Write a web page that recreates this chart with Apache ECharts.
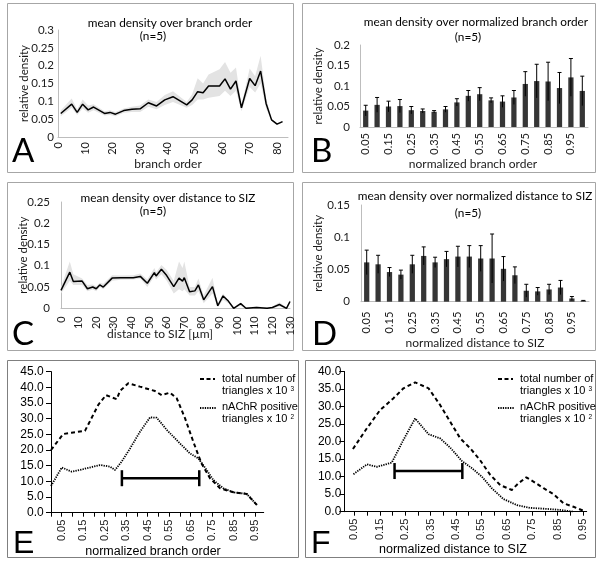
<!DOCTYPE html>
<html><head><meta charset="utf-8">
<script src="https://cdn.jsdelivr.net/npm/echarts@6/dist/echarts.min.js"></script>
<style>html,body{margin:0;padding:0;background:#fff}#c{width:601px;height:563px}</style>
</head><body><div id="c"></div>
<script>
// ---------- Panel A: mean density over branch order ----------
const A_x  = [1,5,7,9,11,13,17,19,21,24,27,30,33,36,39,42,47,49,51,53,55,59,61,63,65,67,70,72,74,76,78,80,82];
const A_y  = [0.066,0.092,0.069,0.092,0.076,0.084,0.066,0.069,0.064,0.074,0.078,0.079,0.096,0.087,0.104,0.113,0.090,0.104,0.127,0.124,0.143,0.143,0.163,0.134,0.157,0.082,0.164,0.144,0.185,0.094,0.048,0.036,0.043];
const A_lo = [0.058,0.082,0.062,0.080,0.068,0.075,0.060,0.062,0.058,0.068,0.070,0.070,0.085,0.078,0.090,0.098,0.082,0.090,0.105,0.105,0.110,0.115,0.130,0.115,0.130,0.072,0.140,0.125,0.150,0.080,0.045,0.034,0.041];
const A_hi = [0.074,0.108,0.078,0.105,0.088,0.092,0.072,0.075,0.070,0.080,0.085,0.088,0.105,0.098,0.118,0.128,0.098,0.120,0.165,0.150,0.175,0.190,0.210,0.180,0.195,0.090,0.192,0.170,0.228,0.110,0.050,0.038,0.045];
const A_ticks = [0,10,20,30,40,50,60,70,80];

// ---------- Panel B: mean density over normalized branch order ----------
const B_cats = ['0.05','0.1','0.15','0.2','0.25','0.3','0.35','0.4','0.45','0.5','0.55','0.6','0.65','0.7','0.75','0.8','0.85','0.9','0.95','1'];
const B_mean = [0.040,0.054,0.050,0.051,0.041,0.039,0.037,0.043,0.060,0.076,0.080,0.065,0.062,0.072,0.105,0.112,0.111,0.095,0.121,0.088];
const B_err  = [0.013,0.018,0.013,0.016,0.009,0.005,0.003,0.007,0.009,0.013,0.016,0.006,0.014,0.017,0.030,0.041,0.047,0.038,0.046,0.036];

// ---------- Panel C: mean density over distance to SIZ ----------
const C_x  = [0,5,7,12,15,18,20,22,24,29,34,41,45,49,53,54,57,60,64,67,69,70,73,76,78,81,86,89,92,95,98,102,105,111,117,120,124,128,130];
const C_y  = [0.042,0.085,0.063,0.064,0.046,0.050,0.046,0.055,0.050,0.071,0.072,0.072,0.075,0.059,0.084,0.076,0.092,0.077,0.051,0.071,0.064,0.072,0.039,0.041,0.055,0.020,0.051,0.006,0.029,0.017,0,0.011,0,0.002,0,0.002,0.009,0,0.016];
const C_lo = [0.035,0.065,0.055,0.055,0.040,0.044,0.040,0.050,0.045,0.065,0.067,0.068,0.070,0.050,0.075,0.068,0.080,0.065,0.035,0.045,0.040,0.045,0.030,0.030,0.040,0.012,0.035,0.002,0.020,0.012,0,0.006,0,0,0,0,0.004,0,0.012];
const C_hi = [0.050,0.110,0.080,0.070,0.055,0.056,0.052,0.060,0.058,0.078,0.077,0.078,0.082,0.068,0.095,0.085,0.102,0.090,0.065,0.110,0.095,0.110,0.050,0.050,0.070,0.030,0.072,0.010,0.035,0.020,0.002,0.014,0.002,0.004,0.002,0.004,0.014,0.002,0.020];

// ---------- Panel D: mean density over normalized distance to SIZ ----------
const D_cats = B_cats;
const D_mean = [0.061,0.058,0.046,0.042,0.058,0.071,0.061,0.066,0.070,0.070,0.067,0.067,0.051,0.041,0.017,0.016,0.019,0.022,0.005,0.0015];
const D_err  = [0.019,0.014,0.007,0.007,0.014,0.014,0.008,0.012,0.016,0.017,0.020,0.038,0.019,0.013,0.010,0.006,0.008,0.011,0.003,0.0005];

// ---------- Panel E: triangles over normalized branch order ----------
const E_xTotal = [0.0,0.057,0.096,0.158,0.18,0.22,0.256,0.275,0.306,0.321,0.36,0.414,0.484,0.515,0.554,0.585,0.624,0.662,0.70,0.74,0.787,0.849,0.911,0.958];
const E_total  = [20.0,25.1,25.5,26.1,29.0,34.4,37.5,37.0,36.2,38.8,41.3,40.2,38.8,37.5,38.3,36.5,30.1,22.7,15.8,11.0,7.8,6.5,6.0,2.5];
const E_xPos   = [0.0,0.05,0.096,0.15,0.228,0.275,0.298,0.329,0.368,0.414,0.461,0.492,0.539,0.60,0.647,0.686,0.725,0.756,0.802,0.849,0.911,0.958];
const E_pos    = [8.5,14.4,13.1,13.9,15.2,14.7,13.6,16.3,20.5,25.8,30.4,30.3,26.4,22.1,18.9,17.3,13.6,10.4,7.8,6.5,6.0,2.5];
const E_range  = [0.33, 0.69, 11.0];

// ---------- Panel F: triangles over normalized distance to SIZ ----------
const F_xTotal = [0.044,0.099,0.151,0.204,0.243,0.289,0.342,0.388,0.427,0.467,0.506,0.545,0.585,0.624,0.67,0.696,0.727,0.755,0.795,0.834,0.874,0.913,0.955];
const F_total  = [17.9,23.8,29.0,32.4,35.2,36.9,35.2,30.4,25.7,20.9,18.1,14.7,10.5,7.6,6.2,8.1,9.8,8.6,6.7,5.0,2.4,1.4,0.2];
const F_xPos   = [0.046,0.099,0.138,0.197,0.243,0.289,0.342,0.388,0.427,0.473,0.513,0.552,0.591,0.637,0.69,0.742,0.808,0.861,0.913];
const F_pos    = [10.7,13.5,12.8,14.0,20.5,26.6,22.1,20.9,18.3,14.5,12.4,10.0,6.7,3.6,1.9,1.1,0.8,0.5,0.0];
const F_range  = [0.208, 0.475, 11.6];

const EF_labels = [0.05,0.15,0.25,0.35,0.45,0.55,0.65,0.75,0.85,0.95];
const EF_ticks  = [0,0.05,0.1,0.15,0.2,0.25,0.3,0.35,0.4,0.45,0.5,0.55,0.6,0.65,0.7,0.75,0.8,0.85,0.9,0.95];

// ---------- helpers ----------
const zip = (xs, ys) => xs.map((x, i) => [x, ys[i]]);
const LATO = 'Lato', ARIAL = 'Liberation Sans';
const TXT = '#1a1a1a';

function bandSeries(gi, xs, lo, hi) {
  return {
    type: 'custom', xAxisIndex: gi, yAxisIndex: gi, silent: true, z: 1,
    data: [[xs[0], lo[0]]],
    renderItem: (params, api) => {
      const pts = [];
      for (let i = 0; i < xs.length; i++) pts.push(api.coord([xs[i], hi[i]]));
      for (let i = xs.length - 1; i >= 0; i--) pts.push(api.coord([xs[i], lo[i]]));
      return { type: 'polygon', shape: { points: pts }, style: { fill: '#e3e3e3' } };
    }
  };
}
function errSeries(gi, mean, err) {
  return {
    type: 'custom', xAxisIndex: gi, yAxisIndex: gi, silent: true, z: 5,
    data: mean.map((m, i) => [i, m, err[i]]),
    renderItem: (params, api) => {
      const x = api.value(0), m = api.value(1), e = api.value(2);
      const top = api.coord([x, m + e]);
      const bot = api.coord([x, Math.max(0, m - e)]);
      const st = { stroke: '#000', lineWidth: 1 };
      return { type: 'group', children: [
        { type: 'line', shape: { x1: top[0], y1: top[1], x2: bot[0], y2: bot[1] }, style: st },
        { type: 'line', shape: { x1: top[0] - 2, y1: top[1], x2: top[0] + 2, y2: top[1] }, style: st }
      ]};
    }
  };
}
function rangeSeries(gi, r) {
  return {
    type: 'custom', xAxisIndex: gi, yAxisIndex: gi, silent: true, z: 6,
    data: [r],
    renderItem: (params, api) => {
      const a = api.coord([api.value(0), api.value(2)]);
      const b = api.coord([api.value(1), api.value(2)]);
      const st = { stroke: '#000', lineWidth: 2.5 };
      return { type: 'group', children: [
        { type: 'line', shape: { x1: a[0], y1: a[1], x2: b[0], y2: b[1] }, style: st },
        { type: 'line', shape: { x1: a[0], y1: a[1] - 8, x2: a[0], y2: a[1] + 8 }, style: st },
        { type: 'line', shape: { x1: b[0], y1: b[1] - 8, x2: b[0], y2: b[1] + 8 }, style: st }
      ]};
    }
  };
}
function excelY(gi, max, labelMargin, nameGap) {
  return {
    gridIndex: gi, type: 'value', min: 0, max: max, interval: 0.05,
    axisLine: { show: true, lineStyle: { color: '#bdbdbd', width: 1 } },
    axisTick: { show: false }, splitLine: { show: false },
    axisLabel: { fontFamily: LATO, fontSize: 11.5, color: TXT, margin: labelMargin },
    name: 'relative density', nameLocation: 'middle', nameGap: nameGap, nameRotate: 90,
    nameMoveOverlap: false,
    nameTextStyle: { fontFamily: LATO, fontSize: 11.5, color: TXT }
  };
}
function excelX(gi, base, labelMargin) {
  return Object.assign({
    gridIndex: gi,
    axisLine: { show: true, lineStyle: { color: '#bdbdbd', width: 1 } },
    axisTick: { show: false }, splitLine: { show: false }
  }, base, {
    axisLabel: Object.assign({ rotate: 90, fontFamily: LATO, fontSize: 11, color: TXT, margin: labelMargin }, base.axisLabel || {})
  });
}
function sigmaY(gi, max) {
  return {
    gridIndex: gi, type: 'value', min: 0, max: max, interval: 5,
    axisLine: { show: true, lineStyle: { color: '#000', width: 1 } },
    axisTick: { show: true, inside: false, length: 5, lineStyle: { color: '#000' } },
    splitLine: { show: false },
    axisLabel: { fontFamily: ARIAL, fontSize: 12, color: '#000', margin: 3, formatter: v => v.toFixed(1) }
  };
}
function sigmaX(gi, min, max) {
  return {
    gridIndex: gi, type: 'value', min: min, max: max,
    axisLine: { show: true, lineStyle: { color: '#000', width: 1 } },
    axisTick: { show: true, length: 4, lineStyle: { color: '#000' }, customValues: EF_ticks },
    splitLine: { show: false },
    axisLabel: { customValues: EF_labels, rotate: 90, fontFamily: ARIAL, fontSize: 11, color: '#222', margin: 7,
                 formatter: v => v.toFixed(2) }
  };
}
const lineStyleSolid = { color: '#000', width: 1.5 };

const option = {
  backgroundColor: '#fff',
  animation: false,
  grid: [
    { left: 58, top: 30, width: 230, height: 107, outerBoundsMode: 'none' },     // A
    { left: 360, top: 45, width: 228, height: 82, outerBoundsMode: 'none' },     // B
    { left: 61, top: 202, width: 229, height: 106.3, outerBoundsMode: 'none' },  // C
    { left: 361, top: 205, width: 228, height: 96.7, outerBoundsMode: 'none' },  // D
    { left: 46.7, top: 371.6, width: 217, height: 141.1, outerBoundsMode: 'none' }, // E
    { left: 344.3, top: 371.5, width: 242.4, height: 140.2, outerBoundsMode: 'none' } // F
  ],
  xAxis: [
    excelX(0, { type: 'value', min: 0, max: 84, axisLabel: { customValues: A_ticks } }, 5),
    excelX(1, { type: 'category', data: B_cats, boundaryGap: true, axisLabel: { interval: 1 } }, 6),
    excelX(2, { type: 'value', min: 0, max: 130, interval: 10 }, 8),
    excelX(3, { type: 'category', data: D_cats, boundaryGap: true, axisLabel: { interval: 1 } }, 10),
    sigmaX(4, -0.02, 0.99),
    sigmaX(5, 0.01, 0.965)
  ],
  yAxis: [
    excelY(0, 0.3, 4, 28),
    excelY(1, 0.2, 10, 36),
    excelY(2, 0.25, 11, 32),
    excelY(3, 0.15, 11, 37),
    sigmaY(4, 45),
    sigmaY(5, 40)
  ],
  series: [
    bandSeries(0, A_x, A_lo, A_hi),
    { type: 'line', xAxisIndex: 0, yAxisIndex: 0, data: zip(A_x, A_y), symbol: 'none', lineStyle: lineStyleSolid, z: 3 },
    { type: 'bar', xAxisIndex: 1, yAxisIndex: 1, data: B_mean, barWidth: '46%', itemStyle: { color: '#363636' } },
    errSeries(1, B_mean, B_err),
    bandSeries(2, C_x, C_lo, C_hi),
    { type: 'line', xAxisIndex: 2, yAxisIndex: 2, data: zip(C_x, C_y), symbol: 'none', lineStyle: lineStyleSolid, z: 3 },
    { type: 'bar', xAxisIndex: 3, yAxisIndex: 3, data: D_mean, barWidth: '46%', itemStyle: { color: '#363636' } },
    errSeries(3, D_mean, D_err),
    { type: 'line', xAxisIndex: 4, yAxisIndex: 4, data: zip(E_xTotal, E_total), symbol: 'none', lineStyle: { color: '#000', width: 2, type: [4, 3] } },
    { type: 'line', xAxisIndex: 4, yAxisIndex: 4, data: zip(E_xPos, E_pos), symbol: 'none', lineStyle: { color: '#000', width: 1.8, type: [1.3, 1.1] } },
    rangeSeries(4, E_range),
    { type: 'line', xAxisIndex: 5, yAxisIndex: 5, data: zip(F_xTotal, F_total), symbol: 'none', lineStyle: { color: '#000', width: 2, type: [4, 3] } },
    { type: 'line', xAxisIndex: 5, yAxisIndex: 5, data: zip(F_xPos, F_pos), symbol: 'none', lineStyle: { color: '#000', width: 1.8, type: [1.3, 1.1] } },
    rangeSeries(5, F_range)
  ],
  graphic: { elements: [] }
};

const G = option.graphic.elements;
// panel frames
[[7.5,3.5,286,169,'#a6a6a6'],[302.5,3.5,293,169,'#a6a6a6'],[7.5,182.5,286,168,'#a6a6a6'],[302.5,182.5,293,168,'#a6a6a6'],
 [7.5,360.5,291,197,'#7f7f7f'],[305.5,360.5,290,197,'#7f7f7f']].forEach(r => {
  G.push({ type: 'rect', shape: { x: r[0], y: r[1], width: r[2], height: r[3] }, style: { fill: null, stroke: r[4], lineWidth: 1 }, silent: true, z: -1 });
});
function txt(x, y, s, font, size, align, color) {
  G.push({ type: 'text', x: x, y: y, silent: true, style: { text: s, fontFamily: font, fontSize: size, fill: color || '#000', align: align || 'center', verticalAlign: 'middle' } });
}
// titles
txt(170, 23, 'mean density over branch order', LATO, 11.8);
txt(153, 36, '(n=5)', LATO, 11.8);
txt(476, 22, 'mean density over normalized branch order', LATO, 11.8);
txt(468, 37, '(n=5)', LATO, 11.8);
txt(168, 198, 'mean density over distance to SIZ', LATO, 11.8);
txt(153, 211, '(n=5)', LATO, 11.8);
txt(475, 196, 'mean density over normalized distance to SIZ', LATO, 11.8);
txt(468, 213, '(n=5)', LATO, 11.8);
// x-axis titles
txt(168, 164, 'branch order', LATO, 12, 'center', TXT);
txt(473, 164, 'normalized branch order', LATO, 12, 'center', TXT);
txt(160, 334, 'distance to SIZ [µm]', LATO, 12, 'center', TXT);
txt(475, 343, 'normalized distance to SIZ', LATO, 12, 'center', TXT);
txt(153, 552, 'normalized branch order', ARIAL, 12.5);
txt(453, 550, 'normalized distance to SIZ', ARIAL, 12.5);
// panel letters
txt(12, 151, 'A', LATO, 33, 'left');
txt(311, 151, 'B', LATO, 33, 'left');
txt(12, 334, 'C', LATO, 33, 'left');
txt(312, 334, 'D', LATO, 33, 'left');
txt(13, 544, 'E', ARIAL, 32, 'left');
txt(311, 544, 'F', ARIAL, 32, 'left');
// legends for E and F
function legend(x0, tx) {
  G.push({ type: 'line', silent: true, shape: { x1: x0, y1: 379, x2: x0 + 15, y2: 379 }, style: { stroke: '#000', lineWidth: 2, lineDash: [4, 2.5] } });
  G.push({ type: 'line', silent: true, shape: { x1: x0, y1: 408, x2: x0 + 16, y2: 408 }, style: { stroke: '#000', lineWidth: 1.8, lineDash: [1.3, 1.1] } });
  const rich = { s: { fontSize: 6.5, fontFamily: ARIAL, verticalAlign: 'top', fill: '#000' } };
  G.push({ type: 'text', x: tx, y: 379, silent: true, style: { text: 'total number of', fontFamily: ARIAL, fontSize: 11, fill: '#000', verticalAlign: 'middle' } });
  G.push({ type: 'text', x: tx, y: 391, silent: true, style: { text: 'triangles x 10 {s|3}', rich: rich, fontFamily: ARIAL, fontSize: 11, fill: '#000', verticalAlign: 'middle' } });
  G.push({ type: 'text', x: tx, y: 407, silent: true, style: { text: 'nAChR positive', fontFamily: ARIAL, fontSize: 11, fill: '#000', verticalAlign: 'middle' } });
  G.push({ type: 'text', x: tx, y: 419, silent: true, style: { text: 'triangles x 10 {s|2}', rich: rich, fontFamily: ARIAL, fontSize: 11, fill: '#000', verticalAlign: 'middle' } });
}
legend(200, 222);
legend(498, 520);

const chart = echarts.init(document.getElementById('c'), null, { renderer: 'canvas' });
chart.setOption(option);
</script>
</body></html>
